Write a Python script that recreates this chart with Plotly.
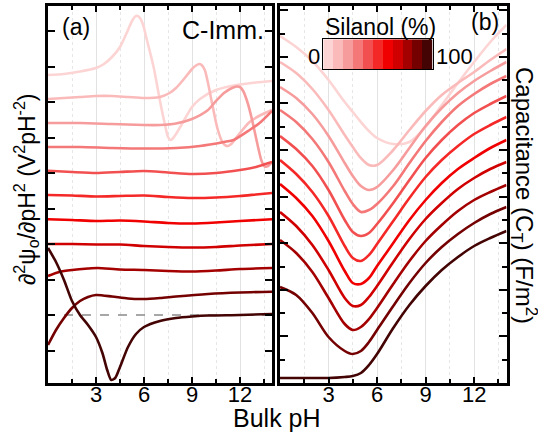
import plotly.graph_objects as go

FONT = "Liberation Sans, Arial, sans-serif"

# ---------------- data ----------------
silanol = [0, 10, 20, 30, 40, 50, 60, 70, 80, 90, 100]
colors = ['#fdd4d4', '#fbbaba', '#f79c9c', '#f47878', '#f25050', '#f52828',
          '#f00000', '#d00000', '#a40000', '#740000', '#440404']

# panel (a): second derivative of surface potential (arbitrary offset units)
a00_ph = [0, 1, 2, 3, 3.5, 4, 4.5, 5, 5.25, 5.45, 5.6, 5.75, 5.95, 6.15, 6.6, 7.0, 7.3, 7.5, 7.65, 7.8, 8.0, 8.3, 9, 9.5, 10.5, 11.8, 13, 14]
a00_v = [240, 241, 243.5, 247, 251, 258, 268, 285, 294, 298.5, 299, 297, 290, 277, 248, 214, 191, 178, 175, 176.5, 181, 189, 208, 216, 225, 230, 232.5, 234]
a10_ph = [0, 1, 2, 3, 4, 5, 6, 7, 7.6, 8, 8.5, 9, 9.25, 9.45, 9.6, 9.8, 10.0, 10.3, 10.6, 10.9, 11.1, 11.25, 11.45, 11.8, 12.6, 13.3, 14]
a10_v = [216, 217, 218, 219, 219, 218, 217, 218, 222, 227, 236, 246, 249.5, 251, 250, 245, 232, 208, 186, 173, 169.5, 169, 171, 178, 193, 200, 205]
a20_ph = [0, 2, 4, 6, 7, 8, 9, 10, 10.5, 11, 11.5, 11.8, 12.0, 12.2, 12.5, 12.8, 13.1, 13.35, 13.55, 13.75, 14]
a20_v = [192, 192, 191, 190, 190, 191.5, 196, 205, 214, 222, 227, 228.5, 228, 224, 211, 192, 170, 154, 148.5, 149, 153]
a30_ph = [0, 2, 4, 6, 8, 9.5, 11, 11.6, 12.6, 13.3, 14]
a30_v = [168, 168, 167, 166.5, 167, 169, 173, 175, 185, 193, 204]
a40_ph = [0, 1.5, 3, 4.5, 6, 7.5, 9, 10.5, 12, 13, 14]
a40_v = [144.3, 143, 142, 143, 144, 142.5, 141, 142, 145, 148, 153]
a50_ph = [0, 1.5, 3, 4.5, 6, 7.5, 9, 10.5, 12, 13, 14]
a50_v = [120, 119.5, 118.5, 119, 119.5, 118, 117, 117.5, 119, 120.5, 122]
a60_ph = [0, 1.5, 3, 4.5, 6, 7.5, 9, 10.5, 12, 14]
a60_v = [95.7, 95, 94, 94.5, 93.5, 92, 91.5, 92.5, 94, 95.7]
a70_ph = [0, 1.5, 3, 4.5, 6, 7.5, 9, 10.5, 12, 14]
a70_v = [71, 71, 70.5, 70.5, 69, 68, 67.5, 68, 69.5, 71]
a80_ph = [0, 0.7, 1.5, 2.5, 3.1, 4.5, 6, 7.5, 9, 10.5, 12, 14]
a80_v = [39, 43, 45, 46.5, 47, 45.5, 45, 44, 43.5, 44.5, 46, 47]
a90_ph = [0, 0.5, 1, 1.5, 2, 2.5, 3, 4, 5, 6, 7, 8, 10, 12, 14]
a90_v = [-30, -15, -3, 7, 14, 18, 20, 18.5, 16.5, 16, 17, 18.5, 21, 22.5, 23.3]
a100_ph = [0, 0.5, 1, 1.5, 2, 2.5, 3, 3.4, 3.7, 3.95, 4.2, 4.5, 5, 5.5, 6, 7, 8, 9, 10, 12, 14]
a100_v = [67, 53, 35, 14, 0, -10, -22, -38, -55, -65, -63, -52, -32, -19, -12, -6, -3, -1.5, -0.5, 0, 1]
zero_ph = [1, 14]
zero_v = [0, 0]

# panel (b): total capacitance (arbitrary offset units)
b_ph = [0, 1, 2, 3, 4, 4.5, 5, 5.5, 6, 7, 8, 9, 10, 11, 12, 13, 14]
cap_00 = [347, 336, 322, 303, 281, 271, 261, 252, 245, 239, 241, 256, 278, 300, 321, 341, 358]
cap_10 = [321, 310, 294, 273, 248, 236, 225, 218, 218, 233, 253, 272, 288, 300, 311, 323, 334]
cap_20 = [296, 285, 269, 247, 220, 207, 197, 193, 196, 213, 235, 257, 275, 290, 302, 312, 321]
cap_30 = [273, 261, 244, 221, 192, 179, 171, 173, 179, 197, 220, 242, 261, 277, 289, 299, 307]
cap_40 = [247, 234, 217, 193, 163, 151, 147, 150, 159, 180, 203, 225, 243, 258, 270, 279, 287]
cap_50 = [223, 209, 191, 167, 137, 125, 122, 128, 139, 162, 185, 206, 223, 237, 249, 258, 266]
cap_60 = [199, 185, 167, 142, 112, 100, 99, 105, 117, 140, 163, 183, 200, 214, 225, 235, 243]
cap_70 = [171, 157, 138, 113, 85, 77, 78, 86, 97, 121, 144, 164, 180, 194, 205, 214, 221]
cap_80 = [143, 130, 111, 85, 59, 53, 56, 64, 75, 99, 122, 142, 158, 172, 183, 191, 198]
cap_90 = [96, 88, 70, 46, 32, 29, 32, 41, 53, 77, 100, 120, 136, 149, 160, 169, 176]
cap_100 = [5, 5, 5, 5, 6, 7, 10, 18, 29, 55, 78, 97, 113, 126, 137, 145, 152]

xticks = [3, 6, 9, 12]

# ---------------- figure ----------------
fig = go.Figure()

a_sets = [(a00_ph, a00_v), (a10_ph, a10_v), (a20_ph, a20_v), (a30_ph, a30_v),
          (a40_ph, a40_v), (a50_ph, a50_v), (a60_ph, a60_v), (a70_ph, a70_v),
          (a80_ph, a80_v), (a90_ph, a90_v), (a100_ph, a100_v)]
b_sets = [cap_00, cap_10, cap_20, cap_30, cap_40, cap_50, cap_60, cap_70,
          cap_80, cap_90, cap_100]

fig.add_trace(go.Scatter(x=zero_ph, y=zero_v, mode="lines", xaxis="x", yaxis="y",
                         line=dict(color="#8a8a8a", width=1.5, dash="dash"),
                         hoverinfo="skip"))
for (px, pv), c in zip(a_sets, colors):
    fig.add_trace(go.Scatter(x=px, y=pv, mode="lines", xaxis="x", yaxis="y",
                             line=dict(color=c, width=2.6, shape="spline", smoothing=0.7)))
for pv, c in zip(b_sets, colors):
    fig.add_trace(go.Scatter(x=b_ph, y=pv, mode="lines", xaxis="x2", yaxis="y2",
                             line=dict(color=c, width=2.6, shape="spline", smoothing=0.9)))

# colour bar legend as a heatmap
cscale = [[s / 100, c] for s, c in zip(silanol, colors)]
fig.add_trace(go.Heatmap(z=[silanol], x=silanol, y=[0], xaxis="x3", yaxis="y3",
                         colorscale=cscale, zmin=0, zmax=100, showscale=False,
                         hoverinfo="skip"))

W, H = 538, 434

def fx(x):
    return x / W

def fy(y):
    return 1 - y / H

ydom = [fy(383), fy(6)]

def xax(x0, x1, yname):
    return dict(domain=[fx(x0), fx(x1)], range=[0, 14], tickvals=xticks,
                ticktext=[str(t) for t in xticks], anchor=yname,
                ticks="inside", ticklen=6, tickwidth=2, tickcolor="black",
                showline=True, linecolor="black", linewidth=2.5, mirror="allticks",
                showgrid=True, gridcolor="#e2e2e2", gridwidth=1,
                minor=dict(dtick=1.5, tick0=0, ticks="inside", ticklen=4, tickwidth=2,
                           tickcolor="black", showgrid=True, gridcolor="#e6e6e6",
                           griddash="dot"),
                zeroline=False, tickfont=dict(family=FONT, size=22, color="black"),
                ticklabelstandoff=-10, automargin=False, fixedrange=True)

fig.update_layout(
    width=W, height=H, margin=dict(l=0, r=0, t=0, b=0),
    paper_bgcolor="white", plot_bgcolor="white", showlegend=False,
    xaxis=xax(48, 272, "y"),
    xaxis2=xax(280, 506.5, "y2"),
    yaxis=dict(domain=ydom, range=[-68, 309], tick0=0, dtick=35.5, showticklabels=False,
               ticks="inside", ticklen=7, tickwidth=2, tickcolor="black", anchor="x",
               showline=True, linecolor="black", linewidth=2.5, mirror="allticks",
               showgrid=False, zeroline=False, automargin=False),
    yaxis2=dict(domain=ydom, range=[0, 377], tick0=0, dtick=46.6, showticklabels=False,
                ticks="inside", ticklen=8, tickwidth=2, tickcolor="black", anchor="x2",
                showline=True, linecolor="black", linewidth=2.5, mirror="allticks",
                minor=dict(dtick=23.3, tick0=0, ticks="inside", ticklen=5, tickwidth=2,
                           tickcolor="black"),
                showgrid=False, zeroline=False, automargin=False),
    xaxis3=dict(domain=[fx(323.3), fx(432.7)], range=[-5, 105], showticklabels=False,
                ticks="", showline=True, linecolor="black", linewidth=1.2, mirror=True,
                showgrid=False, zeroline=False, anchor="y3"),
    yaxis3=dict(domain=[fy(69.3), fy(39.3)], range=[-0.5, 0.5],
                showticklabels=False, ticks="", showline=True, linecolor="black",
                linewidth=1.2, mirror=True, showgrid=False, zeroline=False, anchor="x3"),
)

def ann(text, x, y, size=22, xanchor="center", angle=0):
    fig.add_annotation(text=text, x=fx(x), y=fy(y), xref="paper", yref="paper",
                       showarrow=False, xanchor=xanchor, yanchor="middle",
                       textangle=angle, font=dict(family=FONT, size=size, color="black"))

ann("(a)", 76, 27, size=23)
ann("C-Imm.", 266, 30, size=25, xanchor="right")
ann("(b)", 485, 22, size=23)
ann("Silanol (%)", 380, 27, size=23)
ann("0", 322, 56, xanchor="right")
ann("100", 434, 56, xanchor="left")
ann("Bulk pH", 277, 418, size=25)
ann("∂<sup>2</sup>ψ<sub>o</sub>/∂pH<sup>2</sup> (V<sup>2</sup>pH<sup>-2</sup>)", 26, 189, size=23, angle=-90)
ann("Capacitance (C<sub>T</sub>) (F/m<sup>2</sup>)", 524, 195, size=24, angle=90)

# remove the default 8 px page margin so the figure fills the window exactly
fig.write_html("out.html", config={"displayModeBar": False},
               post_script="document.body.style.margin='0px';")
